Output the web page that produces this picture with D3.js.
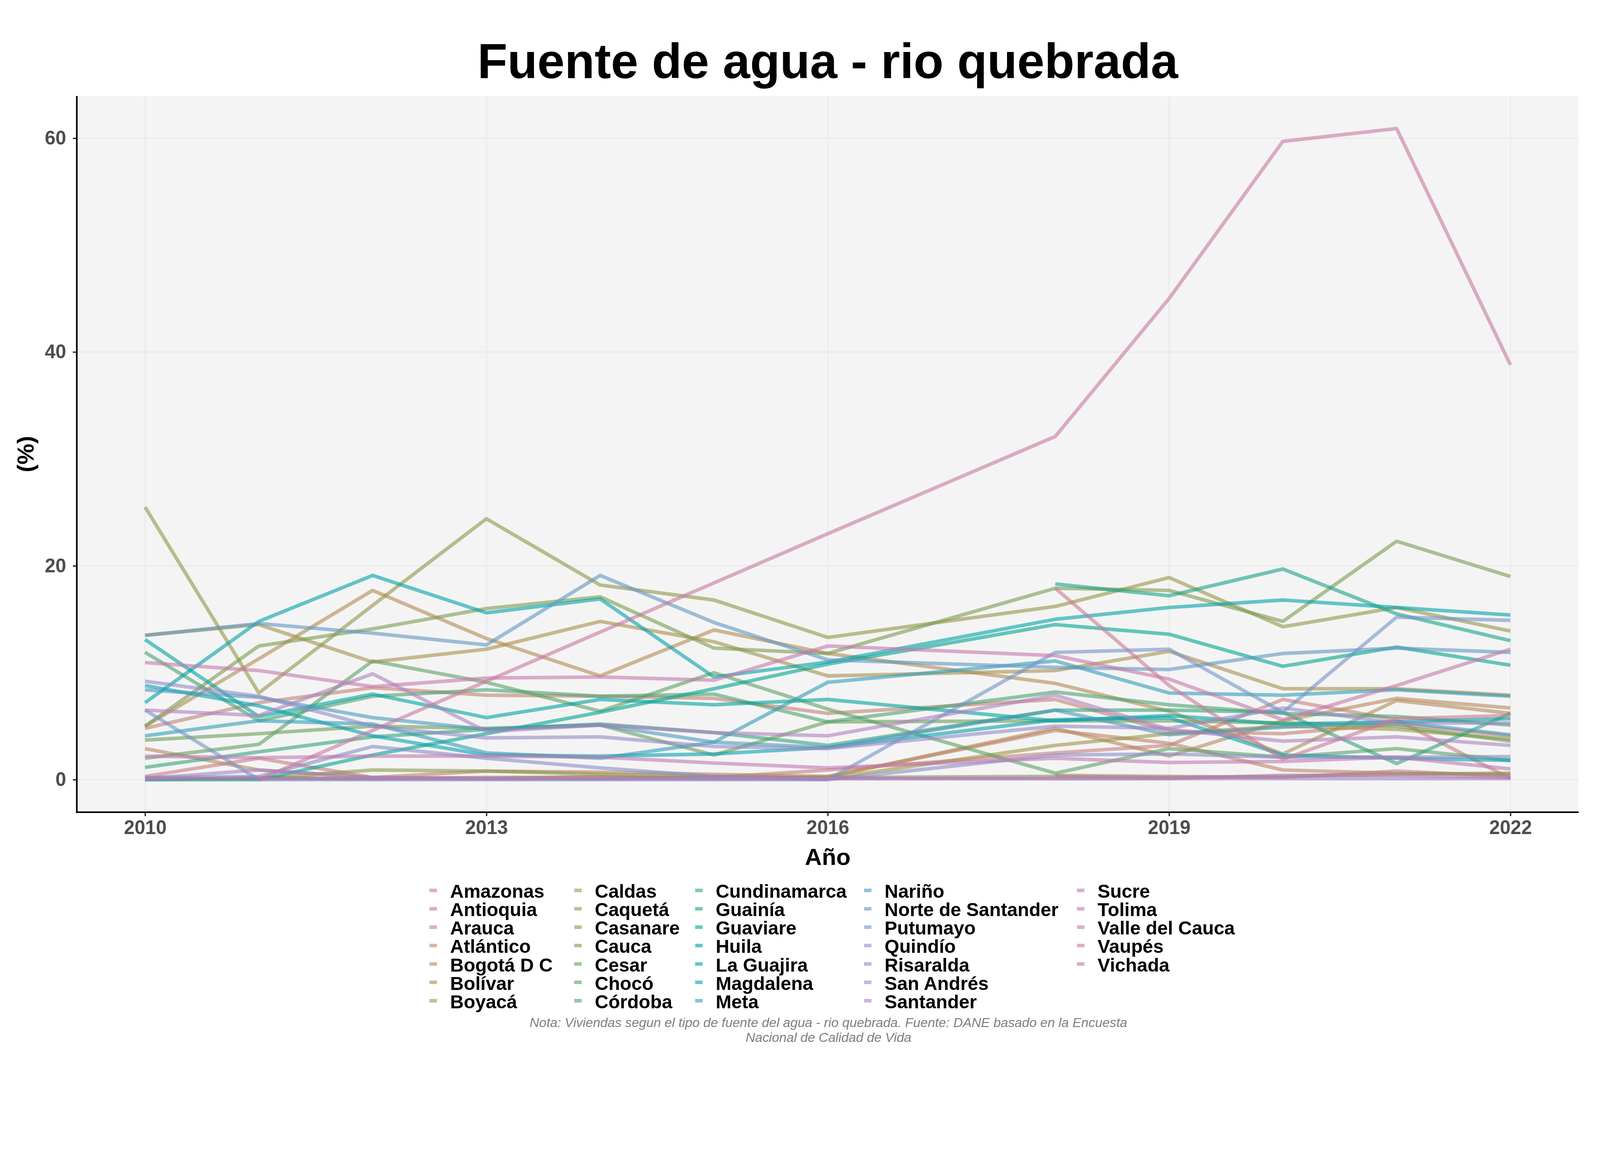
<!DOCTYPE html>
<html>
<head>
<meta charset="utf-8">
<script src="https://cdn.jsdelivr.net/npm/d3@7"></script>
<style>
  html, body { margin: 0; padding: 0; background: #ffffff; overflow: hidden; }
  #chart { display: block; width: 100vw; height: 66.6667vw; }
  text { font-family: "Liberation Sans", Arial, Helvetica, sans-serif; }
</style>
</head>
<body>
<svg id="chart" viewBox="0 0 4500 3000" preserveAspectRatio="xMidYMin meet"></svg>
<script>
var years = [2010, 2011, 2012, 2013, 2014, 2015, 2016, 2018, 2019, 2020, 2021, 2022];
var xTicks = [2010, 2013, 2016, 2019, 2022];
var yTicks = [0, 20, 40, 60];

var departamentos = ["Amazonas", "Antioquia", "Arauca", "Atlántico", "Bogotá D C", "Bolívar", "Boyacá",
  "Caldas", "Caquetá", "Casanare", "Cauca", "Cesar", "Chocó", "Córdoba",
  "Cundinamarca", "Guainía", "Guaviare", "Huila", "La Guajira", "Magdalena", "Meta",
  "Nariño", "Norte de Santander", "Putumayo", "Quindío", "Risaralda", "San Andrés", "Santander",
  "Sucre", "Tolima", "Valle del Cauca", "Vaupés", "Vichada"];

// % de viviendas por año (null = sin dato)
var amazonas     = [null, null, null, null, null, null, null, 0.4, 0.3, 0.2, 0.8, 0.3];
var antioquia    = [0.3, 2.0, 0.2, 0.1, 0.1, 0.2, 0.9, 2.5, 3.2, 7.5, 5.6, 0.1];
var arauca       = [4.8, 7.2, 8.6, 7.9, 7.8, 7.6, 6.2, 7.5, 4.5, 4.3, 5.2, 4.1];
var atlantico    = [2.9, 0.9, 0.2, 0.8, 0.7, 0.5, 0.3, 4.6, 3.4, 0.9, 0.6, 0.5];
var bogota       = [0.0, 0.2, 0.1, 0.1, 0.3, 0.1, 0.25, 4.8, 2.2, 5.5, 7.6, 6.7];
var bolivar      = [5.0, 11.3, 17.7, 13.2, 9.7, 14.0, 11.8, 9.0, 6.4, 2.4, 7.4, 6.2];
var boyaca       = [13.5, 14.5, 11.0, 12.2, 14.8, 12.9, 9.7, 10.2, 12.0, 8.5, 8.5, 7.9];
var caldas       = [0.1, 0.1, 0.1, 0.2, 0.2, 0.2, 0.1, 3.2, 4.3, 5.0, 4.7, 3.8];
var caqueta      = [25.5, 8.1, 16.3, 24.4, 18.2, 16.8, 13.3, 16.2, 18.9, 14.3, 16.1, 13.9];
var casanare     = [0.1, 0.1, 0.9, 0.8, 0.5, 0.3, 0.2, 0.3, 0.2, 0.3, 0.5, 0.6];
var cauca        = [5.0, 12.5, 14.1, 16.0, 17.1, 12.3, 11.8, 17.9, 17.7, 14.8, 22.3, 19.0];
var cesar        = [3.7, 4.3, 5.0, 4.8, 5.1, 2.3, 5.4, 5.5, 5.5, 5.3, 5.0, 3.6];
var choco        = [2.0, 3.3, 11.1, 9.1, 6.4, 10.0, 6.6, 0.6, 2.9, 2.1, 2.9, 1.8];
var cordoba      = [11.9, 5.5, 7.8, 8.4, 7.8, 8.0, 5.4, 8.2, 7.0, 6.2, 5.9, 5.1];
var cundinamarca = [1.15, 2.6, 4.0, 4.7, 5.2, 4.4, 3.2, 6.5, 6.5, 6.3, 1.5, 6.2];
var guainia      = [null, null, null, null, null, null, null, 18.3, 17.2, 19.7, 15.5, 13.0];
var guaviare     = [0.0, 0.0, 2.3, 4.3, 6.3, 8.5, 10.8, 14.5, 13.6, 10.6, 12.4, 10.7];
var huila        = [13.1, 5.9, 8.0, 5.8, 7.5, 7.0, 7.5, 5.5, 6.0, 5.2, 5.4, 5.7];
var laGuajira    = [7.2, 14.8, 19.1, 15.6, 16.9, 9.6, 11.0, 15.0, 16.1, 16.8, 16.1, 15.4];
var magdalena    = [8.8, 6.9, 4.1, 2.3, 2.2, 2.4, 3.0, 5.6, 5.8, 2.3, 2.0, 1.8];
var meta         = [4.1, 5.5, 5.2, 2.5, 2.0, 3.5, 9.1, 11.1, 8.1, 7.9, 8.4, 7.8];
var narino       = [8.4, 7.7, 5.8, 4.7, 5.1, 3.5, 3.0, 6.5, 4.2, 4.9, 5.4, 4.2];
var norteSantander = [13.5, 14.6, 13.7, 12.6, 19.1, 14.7, 11.2, 10.5, 10.3, 11.8, 12.3, 11.9];
var putumayo     = [6.5, 0.0, 0.0, 0.0, 0.0, 0.0, 0.0, 11.9, 12.2, 6.3, 15.2, 14.9];
var quindio      = [0.2, 0.3, 3.1, 2.0, 1.1, 0.3, 0.0, 2.3, 2.4, 2.1, 2.1, 2.15];
var risaralda    = [9.2, 7.8, 5.0, 3.9, 4.0, 3.1, 2.9, 5.0, 4.8, 6.7, 5.3, 5.3];
var sanAndres    = [0.1, 0.9, 0.2, 0.1, 0.1, 0.1, 0.1, 0.1, 0.1, 0.1, 0.1, 0.1];
var santander    = [6.5, 6.0, 9.9, 4.5, 5.1, 4.4, 4.1, 7.9, 4.7, 3.6, 4.0, 3.2];
var sucre        = [0.1, 0.1, 0.1, 0.1, 0.1, 0.1, 0.1, 0.1, 0.1, 0.4, 0.4, 0.2];
var tolima       = [2.2, 2.05, 2.2, 2.2, 2.1, 1.55, 1.1, 2.0, 1.6, 1.7, 2.1, 1.0];
var valle        = [10.95, 10.2, 8.7, 9.5, 9.6, 9.3, 12.5, 11.6, 9.4, 5.6, 8.8, 12.2];
var vaupes       = [null, 0.0, null, null, null, null, 23.0, 32.1, 45.0, 59.7, 60.9, 38.8];
var vichada      = [null, null, null, null, null, null, null, 17.9, 8.8, 1.9, 5.7, 6.0];

var valores = [amazonas, antioquia, arauca, atlantico, bogota, bolivar, boyaca,
  caldas, caqueta, casanare, cauca, cesar, choco, cordoba,
  cundinamarca, guainia, guaviare, huila, laGuajira, magdalena, meta,
  narino, norteSantander, putumayo, quindio, risaralda, sanAndres, santander,
  sucre, tolima, valle, vaupes, vichada];

var series = departamentos.map(function(name, i) {
  return {
    name: name,
    values: years.map(function(yr, j) { return {year: yr, value: valores[i][j]}; })
                 .filter(function(d) { return d.value !== null; })
  };
});

// hcl() en espacio polarLUV, como la paleta de ggplot
function hclLuv(h, c, l) {
  var hr = h * Math.PI / 180;
  var U = c * Math.cos(hr), V = c * Math.sin(hr);
  var Xn = 95.047, Yn = 100, Zn = 108.883;
  var un = 4 * Xn / (Xn + 15 * Yn + 3 * Zn), vn = 9 * Yn / (Xn + 15 * Yn + 3 * Zn);
  var Y = l > 8 ? Yn * Math.pow((l + 16) / 116, 3) : Yn * l / 903.3;
  var u = U / (13 * l) + un, v = V / (13 * l) + vn;
  var X = 9 * Y * u / (4 * v);
  var Z = -X / 3 - 5 * Y + 3 * Y / v;
  X /= 100; Y /= 100; Z /= 100;
  var rgb = [3.2406 * X - 1.5372 * Y - 0.4986 * Z,
            -0.9689 * X + 1.8758 * Y + 0.0415 * Z,
             0.0557 * X - 0.2040 * Y + 1.0570 * Z].map(function(c) {
    c = c <= 0.0031308 ? 12.92 * c : 1.055 * Math.pow(c, 1 / 2.4) - 0.055;
    return Math.round(Math.max(0, Math.min(1, c)) * 255);
  });
  return d3.rgb(rgb[0], rgb[1], rgb[2]).formatHex();
}

var colores = departamentos.map(function(d, i) { return hclLuv(i * 360 / departamentos.length, 50, 60); });
var color = d3.scaleOrdinal().domain(departamentos).range(colores);

var svg = d3.select("#chart");
svg.append("rect").attr("width", 4500).attr("height", 3000).attr("fill", "#ffffff");

var panel = {left: 216, right: 4440, top: 270, bottom: 2284};

var yrExt = d3.extent(years);
var xPad = (yrExt[1] - yrExt[0]) * 0.05;
var x = d3.scaleLinear()
  .domain([yrExt[0] - xPad, yrExt[1] + xPad])
  .range([panel.left, panel.right]);

var yMax = d3.max(valores, function(a) { return d3.max(a); });
var y = d3.scaleLinear()
  .domain([-0.05 * yMax, 1.05 * yMax])
  .range([panel.bottom, panel.top]);

// fondo del panel y grilla
svg.append("rect")
  .attr("x", panel.left).attr("y", panel.top)
  .attr("width", panel.right - panel.left).attr("height", panel.bottom - panel.top)
  .attr("fill", "#f4f4f4");

svg.append("g").selectAll("line").data(yTicks).join("line")
  .attr("x1", panel.left).attr("x2", panel.right)
  .attr("y1", function(d) { return y(d); }).attr("y2", function(d) { return y(d); })
  .attr("stroke", "#ebebeb").attr("stroke-width", 3.5);

svg.append("g").selectAll("line").data(xTicks).join("line")
  .attr("y1", panel.top).attr("y2", panel.bottom)
  .attr("x1", function(d) { return x(d); }).attr("x2", function(d) { return x(d); })
  .attr("stroke", "#ebebeb").attr("stroke-width", 3.5);

// lineas
var line = d3.line()
  .x(function(d) { return x(d.year); })
  .y(function(d) { return y(d.value); });

svg.append("g").selectAll("path").data(series).join("path")
  .attr("d", function(d) { return line(d.values); })
  .attr("fill", "none")
  .attr("stroke", function(d) { return color(d.name); })
  .attr("stroke-opacity", 0.6)
  .attr("stroke-width", 10)
  .attr("stroke-linejoin", "round")
  .attr("stroke-linecap", "butt");

// ejes
var xAxis = d3.axisBottom(x).tickValues(xTicks).tickFormat(d3.format("d")).tickSize(11).tickPadding(12);
var yAxis = d3.axisLeft(y).tickValues(yTicks).tickSize(11).tickPadding(19);

var gx = svg.append("g").attr("transform", "translate(0," + panel.bottom + ")").call(xAxis);
var gy = svg.append("g").attr("transform", "translate(" + panel.left + ",0)").call(yAxis);

[gx, gy].forEach(function(g) {
  g.select(".domain").remove();
  g.selectAll(".tick line").attr("stroke", "#333333").attr("stroke-width", 4);
  g.selectAll(".tick text")
    .attr("fill", "#4d4d4d")
    .attr("font-size", 54)
    .attr("font-weight", "bold")
    .style("font-family", "'Liberation Sans', Arial, Helvetica, sans-serif");
});

svg.append("line")
  .attr("x1", panel.left).attr("x2", panel.left)
  .attr("y1", panel.top).attr("y2", panel.bottom + 2)
  .attr("stroke", "#000000").attr("stroke-width", 4.5);
svg.append("line")
  .attr("x1", panel.left - 2).attr("x2", panel.right)
  .attr("y1", panel.bottom).attr("y2", panel.bottom)
  .attr("stroke", "#000000").attr("stroke-width", 4.5);

// titulos
svg.append("text")
  .attr("x", (panel.left + panel.right) / 2).attr("y", 220)
  .attr("text-anchor", "middle")
  .attr("font-size", 138).attr("font-weight", "bold").attr("fill", "#000000")
  .text("Fuente de agua - rio quebrada");

svg.append("text")
  .attr("x", (panel.left + panel.right) / 2).attr("y", 2432)
  .attr("text-anchor", "middle")
  .attr("font-size", 66).attr("font-weight", "bold").attr("fill", "#000000")
  .text("Año");

svg.append("text")
  .attr("transform", "translate(95," + ((panel.top + panel.bottom) / 2) + ") rotate(-90)")
  .attr("text-anchor", "middle")
  .attr("font-size", 66).attr("font-weight", "bold").attr("fill", "#000000")
  .text("(%)");

// leyenda
var legendCols = [1208, 1615, 1955, 2430, 3029];
var legendTop = 2507, legendStep = 51.7;

var legend = svg.append("g").selectAll("g").data(departamentos).join("g")
  .attr("transform", function(d, i) {
    return "translate(" + legendCols[Math.floor(i / 7)] + "," + (legendTop + (i % 7) * legendStep) + ")";
  });

legend.append("rect")
  .attr("x", 0).attr("y", -8).attr("width", 21).attr("height", 10)
  .attr("fill", function(d) { return color(d); })
  .attr("fill-opacity", 0.6);

legend.append("text")
  .attr("x", 58).attr("y", 18)
  .attr("font-size", 53).attr("font-weight", "bold").attr("fill", "#000000")
  .text(function(d) { return d; });

// nota
var nota = ["Nota: Viviendas segun el tipo de fuente del agua - rio quebrada. Fuente: DANE basado en la Encuesta",
            "Nacional de Calidad de Vida"];
svg.append("g").selectAll("text").data(nota).join("text")
  .attr("x", 2330)
  .attr("y", function(d, i) { return 2888 + i * 42; })
  .attr("text-anchor", "middle")
  .attr("font-size", 37).attr("font-style", "italic").attr("fill", "#808080")
  .text(function(d) { return d; });
</script>
</body>
</html>
